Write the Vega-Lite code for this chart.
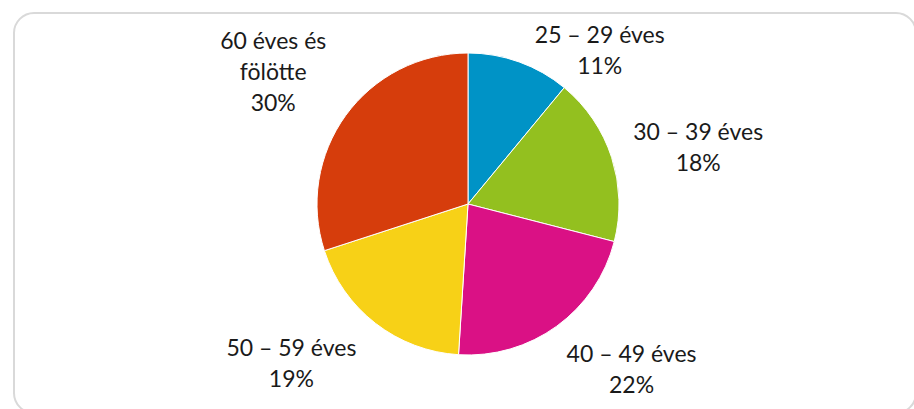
{
  "$schema": "https://vega.github.io/schema/vega-lite/v6.json",
  "width": 914,
  "height": 409,
  "autosize": {"type": "fit", "contains": "padding"},
  "padding": {"left": 13, "top": 12, "right": -3, "bottom": -5},
  "background": "white",
  "config": {
    "view": {"stroke": null},
    "text": {"font": "Lato"}
  },
  "data": {
    "values": [
      {"order": 1, "group": "25 – 29 éves", "pct": 11},
      {"order": 2, "group": "30 – 39 éves", "pct": 18},
      {"order": 3, "group": "40 – 49 éves", "pct": 22},
      {"order": 4, "group": "50 – 59 éves", "pct": 19},
      {"order": 5, "group": "60 éves és\nfölötte", "pct": 30}
    ]
  },
  "transform": [
    {"stack": "pct", "groupby": [], "sort": [{"field": "order", "order": "ascending"}], "as": ["p0", "p1"]},
    {"calculate": "(datum.p0 + datum.p1) / 2", "as": "pmid"},
    {"calculate": "datum.group + '\\n' + datum.pct + '%'", "as": "label"}
  ],
  "layer": [
    {
      "data": {"values": [{"frame": "border"}]},
      "transform": [],
      "mark": {"type": "rect", "fill": "white", "stroke": "#d9d9d9", "strokeWidth": 2, "cornerRadius": 20},
      "encoding": {}
    },
    {
      "mark": {"type": "arc", "outerRadius": 151, "stroke": "white", "strokeWidth": 1, "xOffset": 3, "yOffset": -9},
      "encoding": {
        "theta": {"field": "p0", "type": "quantitative", "scale": {"domain": [0, 100]}},
        "theta2": {"field": "p1"},
        "color": {
          "field": "group",
          "type": "nominal",
          "sort": {"field": "order"},
          "scale": {
            "domain": ["25 – 29 éves", "30 – 39 éves", "40 – 49 éves", "50 – 59 éves", "60 éves és\nfölötte"],
            "range": ["#0093C6", "#93C01F", "#DA1185", "#F7D117", "#D63D0C"]
          },
          "legend": null
        }
      }
    },
    {
      "transform": [
        {"stack": "pct", "groupby": [], "sort": [{"field": "order", "order": "ascending"}], "as": ["p0", "p1"]},
        {"calculate": "(datum.p0 + datum.p1) / 2", "as": "pmid"},
        {"calculate": "datum.group + '\\n' + datum.pct + '%'", "as": "label"},
        {"filter": "datum.order == 1"}
      ],
      "mark": {"type": "text", "radius": 200, "lineBreak": "\n", "lineHeight": 31, "fontSize": 23, "color": "#1a1a1a", "align": "center", "baseline": "middle", "dx": 67, "dy": 11},
      "encoding": {"theta": {"field": "pmid", "type": "quantitative"}, "text": {"field": "label"}}
    },
    {
      "transform": [{"filter": "datum.order == 2"}],
      "mark": {"type": "text", "radius": 200, "lineBreak": "\n", "lineHeight": 31, "fontSize": 23, "color": "#1a1a1a", "align": "center", "baseline": "middle", "dx": 43, "dy": -18},
      "encoding": {"theta": {"field": "pmid", "type": "quantitative"}, "text": {"field": "label"}}
    },
    {
      "transform": [{"filter": "datum.order == 3"}],
      "mark": {"type": "text", "radius": 200, "lineBreak": "\n", "lineHeight": 31, "fontSize": 23, "color": "#1a1a1a", "align": "center", "baseline": "middle", "dx": 49, "dy": -20},
      "encoding": {"theta": {"field": "pmid", "type": "quantitative"}, "text": {"field": "label"}}
    },
    {
      "transform": [{"filter": "datum.order == 4"}],
      "mark": {"type": "text", "radius": 200, "lineBreak": "\n", "lineHeight": 31, "fontSize": 23, "color": "#1a1a1a", "align": "center", "baseline": "middle", "dx": -51, "dy": -22},
      "encoding": {"theta": {"field": "pmid", "type": "quantitative"}, "text": {"field": "label"}}
    },
    {
      "transform": [{"filter": "datum.order == 5"}],
      "mark": {"type": "text", "radius": 200, "lineBreak": "\n", "lineHeight": 31, "fontSize": 23, "color": "#1a1a1a", "align": "center", "baseline": "middle", "dx": -30, "dy": -53},
      "encoding": {"theta": {"field": "pmid", "type": "quantitative"}, "text": {"field": "label"}}
    }
  ]
}
